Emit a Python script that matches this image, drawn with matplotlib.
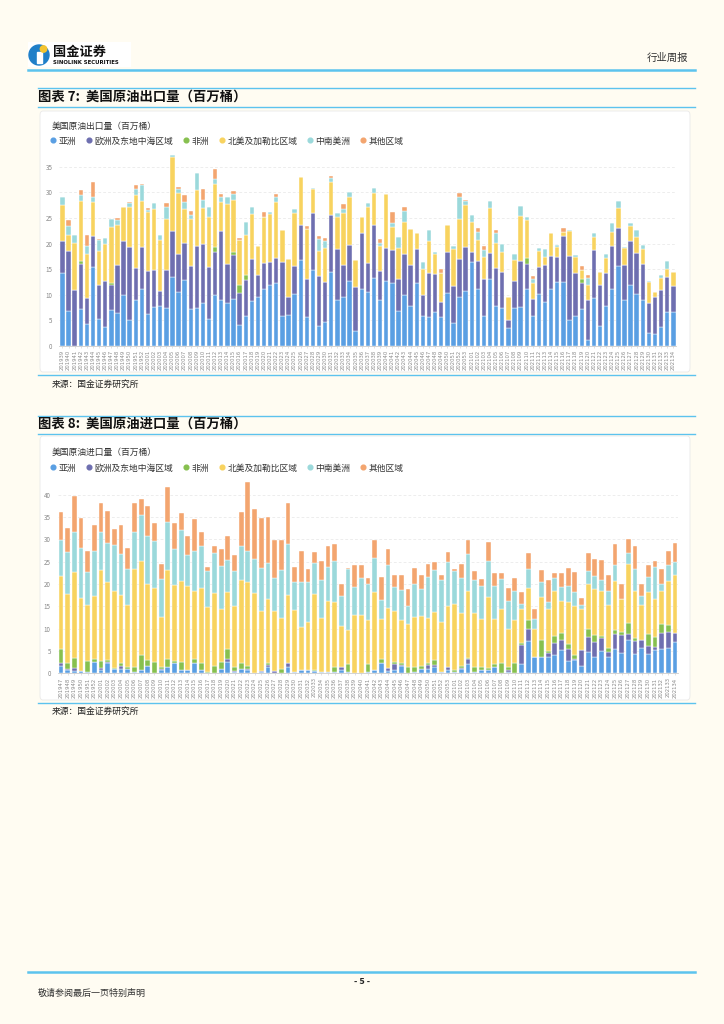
import numpy as np
import matplotlib
matplotlib.use('Agg')
import matplotlib.pyplot as plt
from matplotlib.patches import FancyBboxPatch, Circle, Rectangle
from matplotlib.lines import Line2D

plt.rcParams['font.family'] = ['Noto Sans CJK SC', 'DejaVu Sans']

# ---- data ----
series_names = ['亚洲', '欧洲及东地中海区域', '非洲', '北美及加勒比区域', '中南美洲', '其他区域']
series_colors = ['#5a9fe3', '#6e6fb0', '#87c04f', '#f8d35f', '#9bd9db', '#f3a56f']

export_weeks = ([f'2019{w:02d}' for w in range(39, 53)] + [f'2020{w:02d}' for w in range(1, 54)]
                + [f'2021{w:02d}' for w in range(1, 35)])
import_weeks = ([f'2019{w:02d}' for w in range(47, 53)] + [f'2020{w:02d}' for w in range(1, 54)]
                + [f'2021{w:02d}' for w in range(1, 35)])

export_asia = [14.2, 6.8, 0, 7.2, 4.3, 15.5, 5.2, 3.8, 7.0, 6.4, 9.9, 5.1, 9.0, 11.1, 6.2, 7.6, 7.8, 7.4, 13.5, 10.5,
               12.8, 7.2, 7.5, 8.4, 5.2, 10.0, 8.9, 8.4, 9.2, 4.1, 5.9, 8.7, 9.6, 11.1, 12.0, 12.3, 5.9, 6.1, 10.1, 16.8,
               5.7, 14.9, 4.0, 4.7, 14.5, 9.0, 9.5, 12.6, 2.9, 11.1, 10.6, 13.2, 8.9, 12.7, 12.3, 6.8, 10.0, 7.8, 12.3, 5.9,
               5.7, 6.6, 5.7, 10.3, 4.4, 9.5, 10.7, 16.3, 11.1, 5.9, 13.1, 7.9, 7.4, 3.6, 7.4, 7.7, 11.1, 5.9, 10.1, 8.6,
               11.1, 12.5, 12.4, 5.1, 5.9, 7.2, 1.2, 9.4, 3.9, 7.9, 11.1, 15.6, 9.0, 11.9, 10.1, 9.0, 2.6, 2.4, 3.7, 6.6,
               6.6]
export_europe = [6.2, 11.8, 10.9, 8.9, 5.1, 6.0, 6.8, 8.9, 5.0, 9.4, 10.5, 14.2, 6.3, 8.3, 8.4, 7.3, 2.9, 7.4, 8.9, 7.5,
                 7.3, 8.5, 12.0, 11.6, 10.3, 8.4, 13.6, 7.6, 8.6, 6.3, 6.9, 8.3, 4.2, 5.1, 4.4, 4.9, 10.4, 3.5, 5.6, 6.9,
                 7.4, 11.0, 9.6, 7.8, 11.0, 9.9, 6.3, 7.1, 8.6, 11.0, 5.6, 10.4, 5.7, 6.4, 6.4, 6.3, 7.9, 8.0, 6.6, 4.1,
                 8.5, 7.5, 2.8, 8.1, 7.3, 7.4, 8.7, 2.1, 5.5, 7.1, 5.0, 7.3, 7.0, 1.5, 5.3, 8.8, 5.0, 3.3, 5.3, 7.2,
                 6.5, 4.9, 9.1, 12.5, 8.4, 5.1, 7.7, 9.4, 8.1, 6.3, 8.4, 7.5, 6.8, 8.5, 8.1, 7.1, 5.8, 7.1, 7.3, 6.9,
                 5.2]
export_africa = [0, 0, 0, 0.5, 0, 0, 0, 0, 0.2, 0, 0, 0, 0, 0, 0, 0, 0, 0, 0, 0,
                 0, 0, 0, 0, 0, 0.9, 0, 0, 0.6, 1.5, 1.1, 0, 0, 0, 0, 0, 0, 0, 0, 0,
                 0, 0, 0, 0, 0, 0, 0, 0, 0, 0, 0, 0, 0, 0, 0, 0, 0, 0, 0, 0,
                 0, 0, 0, 0, 0, 0, 0, 0, 0, 0, 0, 0, 0, 0, 0, 0, 1.1, 0, 0, 0,
                 0, 0, 0, 0, 0, 0.8, 0, 0, 0, 0, 0, 0, 0, 0, 0, 0, 0, 0, 0, 0,
                 0]
export_namerica = [7.1, 3.1, 9.3, 11.8, 8.6, 6.7, 6.5, 7.3, 11.0, 7.8, 6.8, 7.8, 14.1, 8.9, 11.6, 11.8, 9.9, 10.0, 14.4, 11.8,
                   6.6, 9.0, 10.9, 7.0, 9.7, 12.4, 5.7, 11.7, 10.1, 8.7, 7.8, 8.8, 5.8, 9.0, 9.4, 11.0, 6.3, 7.3, 10.2, 9.2,
                   9.7, 4.7, 5.0, 6.7, 6.6, 6.2, 10.2, 9.4, 5.2, 3.1, 10.9, 6.3, 5.0, 10.6, 4.5, 6.1, 6.3, 7.0, 3.2, 5.1,
                   6.2, 3.9, 5.7, 5.2, 7.3, 7.9, 8.1, 5.9, 4.1, 4.4, 8.9, 5.0, 3.9, 4.5, 4.1, 8.9, 7.3, 3.1, 3.1, 1.6,
                   4.5, 2.0, 0.8, 4.8, 3.1, 1.7, 3.0, 2.4, 2.4, 2.9, 2.8, 3.9, 3.3, 3.0, 3.0, 2.8, 4.0, 1.0, 2.3, 1.5,
                   2.6]
export_samerica = [1.5, 1.7, 1.4, 1.0, 1.6, 0.9, 2.1, 1.0, 1.5, 0.9, 0, 0.8, 1.2, 3.2, 0.3, 1.3, 1.1, 2.3, 0.5, 0.8,
                   1.5, 0.8, 3.4, 1.5, 1.9, 0.9, 0.9, 1.3, 1.2, 0, 2.5, 1.4, 0, 0, 0.4, 0.9, 0, 0, 0.8, 0,
                   0, 0.2, 2.3, 1.3, 0.7, 0.9, 0.8, 0.9, 0, 0, 0.9, 0.9, 0.5, 0, 0.9, 2.1, 2.1, 0, 0, 1.3,
                   2.2, 0.3, 0, 0, 0.5, 4.2, 0.8, 1.2, 1.6, 1.3, 1.4, 1.8, 1.7, 0, 1.1, 2.0, 0.7, 0.8, 0.6, 1.5,
                   0, 0.3, 0, 0.2, 0.4, 0, 1.4, 0.9, 0, 0.8, 1.8, 1.4, 0.2, 0.6, 1.4, 0.9, 0.2, 0, 0.5, 1.5,
                   0]
export_other = [0, 1.1, 0, 1.0, 2.0, 2.9, 0.2, 0, 0, 0.5, 0, 0.3, 0.9, 0.1, 0.5, 0, 0, 0.9, 0, 0.5,
                1.2, 0.8, 0, 2.1, 0, 1.9, 0.5, 0, 0.6, 0.5, 0, 0, 0, 1.0, 0, 0.6, 0, 0, 0, 0,
                0.6, 0, 0.5, 0.5, 0.4, 0, 0.9, 0, 0, 0, 0, 0, 0.8, 0, 2.0, 0, 0.9, 0, 0, 0,
                0, 0, 0.8, 0, 0, 0.9, 0.2, 0.1, 0.7, 0.8, 0, 0.7, 0, 0, 0, 0, 0, 0.6, 0, 0,
                0, 0, 0.7, 0, 0, 0.9, 0.6, 0, 0, 0, 0, 0, 0, 0, 0, 0, 0, 0, 0, 0,
                0]

import_asia = [1.7, 0.7, 0.6, 0.5, 0.3, 2.6, 0.7, 2.2, 0.9, 1.0, 0.9, 0.3, 0.7, 1.7, 0, 0.7, 1.5, 2.3, 0.7, 0.7,
               2.3, 0.7, 0, 0, 1.0, 2.5, 0.4, 1.0, 0.7, 0, 0.4, 1.5, 0, 0, 1.3, 0.3, 0.7, 0.7, 0.5, 0.3,
               0.3, 0.2, 0.7, 0.3, 0, 0, 0.3, 0.7, 2.3, 0.5, 0.8, 1.7, 0, 0.3, 1.0, 1.0, 1.3, 0.2, 0.7, 0.2,
               1.0, 2.1, 0.2, 0.7, 0.7, 1.3, 0, 0.3, 0, 2.1, 7.2, 3.6, 3.7, 3.7, 4.1, 5.3, 2.8, 3.0, 1.7, 4.7,
               3.7, 5.1, 3.7, 5.4, 4.6, 7.5, 4.4, 5.6, 4.4, 5.2, 5.4, 5.6, 7.1]
import_europe = [0.6, 0.3, 0.5, 0, 0, 0, 0.4, 0.3, 0, 0.6, 0.1, 0, 0, 0, 0, 0.2, 0, 0, 0, 0,
                 0, 0, 0, 0, 0, 0.7, 0.2, 0, 0.2, 0, 0.1, 0.3, 0.5, 0, 0.9, 0, 0, 0, 0.1, 0,
                 0, 0, 0.6, 0, 0, 0, 0.1, 0, 0, 0.6, 1.2, 0.1, 0, 0, 0, 0.8, 0.6, 0.1, 0.6, 0,
                 0.2, 1.0, 0.1, 0, 0, 0, 0, 0.5, 0, 4.3, 2.8, 0.1, 0, 0.9, 2.7, 2.2, 2.6, 0.2, 3.5, 3.4,
                 3.3, 2.8, 1.1, 3.3, 4.0, 1.4, 2.8, 1.9, 1.7, 0.6, 3.6, 3.7, 1.9]
import_africa = [3.1, 1.3, 2.3, 0, 2.4, 0.7, 1.7, 0.4, 0.3, 0.6, 0.4, 1.1, 3.3, 1.2, 2.5, 0.4, 1.6, 0.5, 1.9, 0,
                 1.0, 1.5, 0.4, 1.7, 1.6, 2.3, 0.7, 1.4, 0.8, 0, 0, 0.5, 0, 1.0, 0, 0, 0, 0, 0.2, 0,
                 0.1, 1.1, 0.2, 1.8, 0, 0, 1.6, 0, 0.9, 0, 0.6, 0.4, 1.3, 1.0, 0.6, 0.4, 1.1, 0, 0.2, 0.5,
                 0.5, 0.3, 1.0, 0.7, 0.4, 0.7, 2.3, 0.6, 2.3, 0.4, 1.9, 0, 3.8, 0.5, 1.6, 1.5, 1.1, 0.9, 0, 1.8,
                 1.5, 0.5, 0.8, 1.0, 0.6, 2.4, 0.6, 0, 2.6, 2.3, 2.1, 1.5, 0]
import_namerica = [16.4, 15.5, 19.3, 16.4, 12.6, 14.0, 20.3, 17.5, 17.3, 15.3, 14.0, 22.0, 21.1, 17.1, 16.5, 11.3, 20.0, 17.0, 18.1, 18.9,
                   15.1, 16.8, 14.5, 16.2, 11.7, 12.7, 13.8, 18.5, 18.8, 18.0, 13.5, 14.3, 13.5, 11.4, 15.3, 13.9, 9.7, 10.8, 17.0, 12.1,
                   15.8, 14.7, 9.2, 7.6, 13.1, 13.0, 10.0, 17.6, 8.9, 13.6, 11.3, 9.8, 9.7, 11.4, 11.2, 10.1, 10.7, 11.3, 13.6, 14.8,
                   11.7, 15.0, 12.1, 10.8, 15.9, 10.2, 12.1, 8.5, 9.7, 7.5, 7.1, 6.3, 9.6, 9.2, 10.0, 7.1, 9.5, 11.0, 9.2, 10.1,
                   10.4, 10.0, 9.8, 11.0, 7.4, 13.1, 10.6, 7.8, 9.4, 8.5, 7.3, 9.9, 13.0]
import_samerica = [8.0, 9.4, 8.9, 11.2, 7.4, 10.2, 8.6, 8.8, 10.2, 9.3, 8.0, 8.3, 10.3, 10.7, 10.6, 8.5, 10.8, 8.0, 11.5, 6.8,
                   9.0, 9.5, 8.0, 9.0, 9.8, 7.2, 7.8, 7.7, 6.9, 7.5, 9.5, 8.1, 7.4, 10.7, 11.5, 6.2, 10.1, 9.0, 6.8, 8.5,
                   7.7, 9.1, 6.7, 13.7, 6.2, 8.4, 8.1, 7.5, 4.4, 9.5, 5.4, 6.7, 4.1, 7.3, 6.1, 9.3, 9.5, 9.4, 9.9, 7.3,
                   7.9, 8.4, 7.6, 7.4, 8.1, 7.4, 6.7, 6.2, 6.4, 1.2, 4.3, 2.2, 3.4, 1.7, 3.0, 3.3, 3.6, 3.2, 0.9, 3.0,
                   3.0, 2.4, 3.1, 3.6, 0.1, 2.5, 4.9, 2.0, 3.5, 7.1, 1.6, 3.5, 3.0]
import_other = [6.3, 5.3, 8.1, 6.6, 4.6, 5.7, 6.5, 7.1, 3.6, 6.4, 4.7, 6.5, 3.7, 6.8, 4.0, 3.4, 7.8, 5.9, 3.7, 4.3,
                7.1, 3.1, 1.0, 1.5, 3.8, 5.3, 3.6, 7.5, 15.5, 11.4, 11.3, 10.4, 8.5, 6.8, 9.2, 3.5, 7.0, 2.8, 2.6, 4.2,
                4.6, 3.8, 2.5, 0.1, 4.9, 2.9, 1.3, 4.0, 5.1, 3.6, 2.7, 3.3, 3.7, 3.5, 3.1, 2.8, 1.7, 1.0, 2.2, 0.6,
                3.2, 3.0, 2.0, 1.5, 4.2, 2.9, 1.4, 3.0, 2.9, 2.8, 3.6, 2.3, 2.6, 4.9, 1.0, 3.1, 4.0, 4.4, 1.6, 3.9,
                3.8, 4.6, 3.6, 4.7, 3.2, 3.2, 5.2, 2.7, 2.7, 1.5, 3.3, 3.2, 4.1]

export_series = [export_asia, export_europe, export_africa, export_namerica, export_samerica, export_other]
import_series = [import_asia, import_europe, import_africa, import_namerica, import_samerica, import_other]

# ---- page ----
W, H = 724, 1024
BG = '#fffcf2'
LINE_BLUE = '#5cc3ee'


def fx(x):
    return x / W


def fy(y):
    return 1 - y / H


fig = plt.figure(figsize=(7.24, 10.24), dpi=100)
fig.patch.set_facecolor(BG)


def hline(x0, x1, y, lw, color=LINE_BLUE, z=-2):
    fig.add_artist(Line2D([fx(x0), fx(x1)], [fy(y), fy(y)], transform=fig.transFigure,
                          color=color, lw=lw, zorder=z))


# logo
ax_logo = fig.add_axes([fx(28), fy(67), fx(131) - fx(28), 25 / H])
ax_logo.set_xlim(0, 103)
ax_logo.set_ylim(0, 25)
ax_logo.axis('off')
ax_logo.add_patch(Rectangle((0, 0), 103, 25, color='white'))
ax_logo.add_patch(Circle((11, 12), 10, color='#1f7fc8'))
ax_logo.add_patch(Rectangle((9, 4), 5, 11, color='white'))
ax_logo.add_patch(Circle((15.5, 18), 3.2, color='#f4c430'))
ax_logo.text(25, 15.5, '国金证券', fontsize=9.5, fontweight='bold', va='center', ha='left', color='#111')
ax_logo.text(25, 4.5, 'SINOLINK SECURITIES', fontsize=3.9, fontweight='bold', va='center', ha='left',
             family='DejaVu Sans', color='#111')

fig.text(fx(688), fy(58), '行业周报', fontsize=7.5, ha='right', va='center', color='#333')
hline(28, 695, 70, 1.8)

# footer
hline(28, 695, 972, 1.8)
fig.text(fx(362), fy(981), '- 5 -', fontsize=6.5, fontweight='bold', ha='center', va='center', color='#222')
fig.text(fx(38), fy(993), '敬请参阅最后一页特别声明', fontsize=6.5, ha='left', va='center', color='#333')


def draw_block(title, subtitle, top_line, title_y, under_line, panel_top, panel_bottom, bottom_line,
               source_y, sub_y, legend_y, weeks, series, ax_left, ax_right, zero_y, px_per_unit, ymax, yticks):
    hline(38, 695, top_line, 1.0)
    hline(38, 695, under_line, 1.0)
    hline(38, 695, bottom_line, 1.0)
    fig.text(fx(38), fy(title_y), title, fontsize=9.6, fontweight='bold', style='italic',
             ha='left', va='center', color='#111')
    panel = FancyBboxPatch((fx(40), fy(panel_bottom)), fx(690) - fx(40), (panel_bottom - panel_top) / H,
                           boxstyle='round,pad=0,rounding_size=0.004', transform=fig.transFigure,
                           facecolor='white', edgecolor='#e9e9e9', lw=0.6, zorder=-1)
    fig.add_artist(panel)
    fig.text(fx(52), fy(sub_y), subtitle, fontsize=6.3, ha='left', va='center', color='#333')
    fig.text(fx(52), fy(source_y), '来源：国金证券研究所', fontsize=6.3, ha='left', va='center', color='#222')

    handles = [Line2D([], [], marker='o', ls='', color=c, markersize=3.4) for c in series_colors]
    fig.legend(handles, series_names, loc='center left', bbox_to_anchor=(fx(50), fy(legend_y)), ncol=6,
               frameon=False, fontsize=6.3, handlelength=0.6, handletextpad=0.35, columnspacing=1.15,
               borderpad=0, borderaxespad=0, labelcolor='#333')

    height_px = ymax * px_per_unit
    ax = fig.add_axes([fx(ax_left), fy(zero_y), fx(ax_right) - fx(ax_left), height_px / H])
    ax.set_facecolor('none')
    x = np.arange(len(weeks))
    bottom = np.zeros(len(weeks))
    for vals, color, name in zip(series, series_colors, series_names):
        vals = np.array(vals, dtype=float)
        ax.bar(x, vals, bottom=bottom, width=0.72, color=color, edgecolor='white', linewidth=0.3, label=name)
        bottom += vals
    ax.set_xlim(-0.5, len(weeks) - 0.5)
    ax.set_ylim(0, ymax)
    ax.set_yticks(yticks)
    ax.set_yticklabels([str(t) for t in yticks], fontsize=4.5, color='#888')
    ax.set_xticks(x)
    ax.set_xticklabels(weeks, rotation=90, fontsize=3.8, color='#8a8a8a', family='DejaVu Sans')
    ax.tick_params(axis='y', length=0, pad=5)
    ax.tick_params(axis='x', length=1.5, width=0.4, color='#cccccc', pad=1.5)
    for side in ['top', 'right', 'left']:
        ax.spines[side].set_visible(False)
    ax.spines['bottom'].set_color('#cccccc')
    ax.spines['bottom'].set_linewidth(0.6)
    ax.yaxis.grid(True, linestyle=(0, (4, 3)), color='#e6e6e6', linewidth=0.5)
    ax.set_axisbelow(True)
    return ax


draw_block('图表 7:  美国原油出口量（百万桶）', '美国原油出口量（百万桶）',
           88, 97, 107, 111, 372, 374.5, 384, 126, 141,
           export_weeks, export_series, 59.4, 676.4, 346, 5.123, 38, [0, 5, 10, 15, 20, 25, 30, 35])

draw_block('图表 8:  美国原油进口量（百万桶）', '美国原油进口量（百万桶）',
           415.5, 424, 434, 436, 700, 703, 711, 452, 468,
           import_weeks, import_series, 57.7, 678.3, 673.3, 4.465, 44, [0, 5, 10, 15, 20, 25, 30, 35, 40])

fig.savefig('out.png', dpi=100, facecolor=BG)
